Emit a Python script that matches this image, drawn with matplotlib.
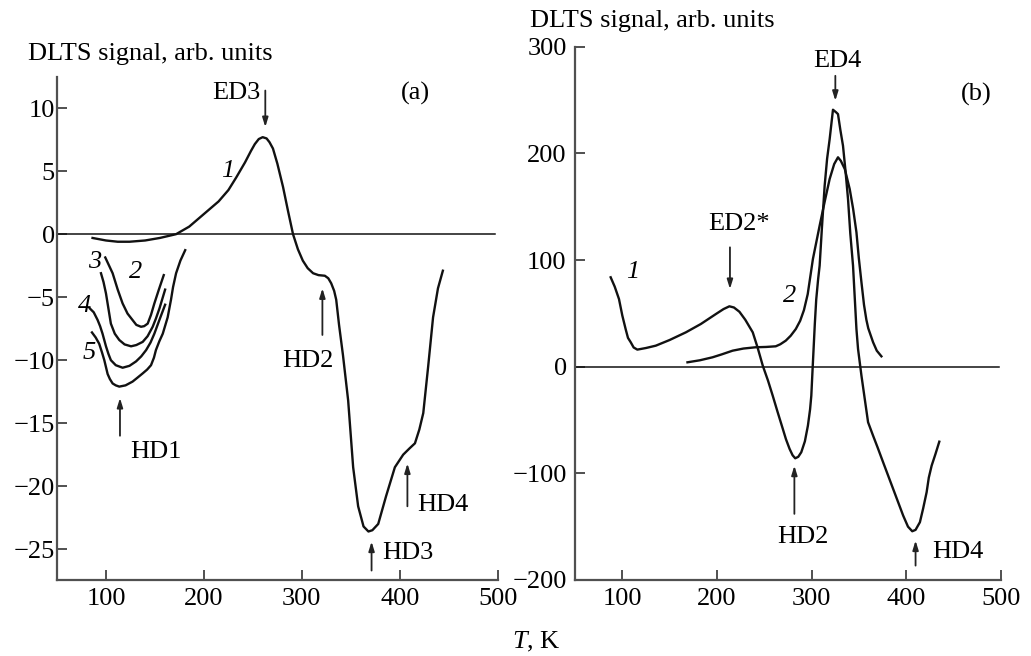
import matplotlib
matplotlib.use("Agg")
import matplotlib.pyplot as plt

plt.rcParams["font.family"] = ["Liberation Serif", "DejaVu Serif"]
plt.rcParams["mathtext.fontset"] = "custom"
plt.rcParams["mathtext.rm"] = "Liberation Serif"
plt.rcParams["mathtext.it"] = "Liberation Serif:italic"

FS = 19

# ---------------- panel (a) data ----------------
a_T1 = [86.3, 100, 112, 124, 140, 155, 171.6, 185, 197, 209, 215, 225, 233, 242, 248, 252,
        256, 260, 264, 267, 270.5, 275, 280.8, 286, 291, 296, 301, 306, 311.5, 317, 323.5,
        327, 330, 333, 335.1, 338, 342, 347.3, 352.4, 357.5, 363, 368, 372, 378, 386, 395,
        403.5, 410, 415.5, 420, 424, 429, 434, 439, 444]
a_S1 = [-0.3, -0.5, -0.6, -0.6, -0.5, -0.3, 0.0, 0.6, 1.4, 2.2, 2.6, 3.5, 4.5, 5.7, 6.6, 7.15,
        7.55, 7.7, 7.6, 7.3, 6.8, 5.6, 3.75, 1.8, 0.0, -1.2, -2.1, -2.7, -3.1, -3.25, -3.3,
        -3.5, -3.9, -4.5, -5.2, -7.2, -9.6, -13.2, -18.5, -21.6, -23.2, -23.6, -23.5, -23.0,
        -20.8, -18.5, -17.5, -17.0, -16.6, -15.5, -14.2, -10.5, -6.6, -4.3, -2.9]

a_T2 = [99.3, 102, 106.8, 112, 117, 122, 127, 131, 135.8, 139, 142.6, 146, 149.4, 154, 159]
a_S2 = [-1.85, -2.3, -3.1, -4.4, -5.5, -6.3, -6.8, -7.2, -7.35, -7.3, -7.1, -6.4, -5.5, -4.4, -3.25]

a_T3 = [94.9, 97.5, 100, 102.5, 105, 109, 113.6, 119, 125.6, 131, 137.5, 142.5, 147.7, 151,
        154.6, 160.4]
a_S3 = [-3.1, -3.8, -4.7, -5.9, -7.1, -7.9, -8.4, -8.75, -8.9, -8.8, -8.55, -8.1, -7.35, -6.7,
        -5.9, -4.4]

a_T4 = [83.6, 87.5, 91.4, 94, 96.5, 100, 102.5, 105, 110, 117, 124, 130.7, 136, 141, 145.5,
        149.4, 154.6, 160.4]
a_S4 = [-5.9, -6.2, -6.8, -7.3, -7.9, -8.9, -9.5, -10.0, -10.4, -10.6, -10.45, -10.1, -9.7,
        -9.2, -8.6, -7.9, -6.8, -5.6]

a_T5 = [85.7, 89.5, 93.1, 96, 98.3, 101.7, 104, 106.8, 110, 113.6, 120, 127.2, 132, 137.5, 142,
        146, 149, 151, 154.5, 158, 163, 166.4, 168.5, 171.6, 176, 180.9]
a_S5 = [-7.8, -8.2, -8.7, -9.4, -10.0, -11.1, -11.5, -11.85, -12.0, -12.1, -12.0, -11.7, -11.4,
        -11.05, -10.75, -10.4, -9.8, -9.2, -8.5, -7.9, -6.6, -5.2, -4.2, -3.1, -2.1, -1.27]

a_xticks = [100, 200, 300, 400, 500]
a_yticks = [10, 5, 0, -5, -10, -15, -20, -25]

# ---------------- panel (b) data ----------------
b_T1 = [87.7, 92, 96.5, 100, 103.6, 106, 108.9, 112, 115.9, 125, 135.4, 150, 167.2, 183, 199,
        207, 213.2, 218, 223.8, 230, 237.9, 243, 248.5, 254, 259, 264, 269.7, 273, 276.8, 280,
        282.8, 286, 289.2, 293, 296.2, 298.5, 299.8, 301, 302.2, 303.5, 305, 307, 308.6, 311,
        313.9, 316.5, 319.2, 322.7, 326, 328, 330.5, 333.3, 336, 338.6, 341, 343.9, 346, 347.5,
        349.2, 352.8, 356.3, 359.8, 365.1, 370, 375.7, 386.3, 396.9, 402, 406.5, 410, 414.6,
        418, 421.7, 424, 427, 431, 435.1]
b_S1 = [83.8, 75, 63.4, 48, 35, 27, 22.9, 18, 16, 17.5, 19.7, 25, 32.2, 40, 49.4,
        54, 56.6, 55.5, 51.5, 44, 32.2, 18, 0.9, -13, -27.2, -42, -58.4, -68, -77, -83,
        -85.9, -84.5, -80.2, -70, -55.3, -40, -27.2, -5, 16.6, 40, 63, 82, 94.7, 130,
        169.6, 195, 213.4, 240.9, 238.5, 236.8, 222, 207.1, 183, 157.2, 125, 94.7, 60, 35.3,
        16.6, -8.4, -30.3, -52.1, -64.7, -76, -89.6, -114.6, -139.6, -150, -154.3, -153, -145.8,
        -133, -117.7, -104, -92.8, -82, -70.3]

b_T2 = [168.9, 182, 195.4, 205, 216.6, 228, 241, 252, 262.2, 267, 272.8, 278, 283.4, 288, 292,
        296, 301.5, 308.6, 314, 319.2, 324, 328, 331, 335.2, 340.4, 344, 347.5, 350, 352.8,
        355.5, 358, 360, 365.1, 369, 373.9]
b_S2 = [4.1, 6, 8.8, 11.5, 15, 17, 18.2, 18.5, 19.1, 21, 24.4, 29, 35.3, 43, 53,
        68, 101, 132.2, 155, 176, 190, 196.3, 193, 185.3, 166.5, 148, 126, 102, 79.1,
        58, 44, 36, 22.9, 15, 9.7]

b_xticks = [100, 200, 300, 400, 500]
b_yticks = [300, 200, 100, 0, -100, -200]

SPINE = "#505050"
LINE = "#111111"

fig = plt.figure(figsize=(10.31, 6.56), dpi=100)
axa = fig.add_axes([57 / 1031, 76 / 656, (497.7 - 57) / 1031, (580 - 76.7) / 656])
axb = fig.add_axes([575 / 1031, 76 / 656, (1000.7 - 575) / 1031, (580 - 46.7) / 656])


def style(ax, xt, yt, ypad):
    for s in ("top", "right"):
        ax.spines[s].set_visible(False)
    for s in ("left", "bottom"):
        ax.spines[s].set_color(SPINE)
        ax.spines[s].set_linewidth(1.6)
    ax.set_xticks(xt)
    ax.set_yticks(yt)
    ax.tick_params(axis="both", direction="in", length=7, width=1.4, color=SPINE,
                   labelsize=FS, labelcolor="black")
    ax.tick_params(axis="x", pad=6)
    ax.tick_params(axis="y", pad=ypad)
    ax.set_xlim(50, 500)
    ax.axhline(0, xmin=0, xmax=0.995, color=LINE, lw=1.1)


style(axa, a_xticks, a_yticks, 1.5)
axa.set_ylim(-27.45, 12.5)
style(axb, b_xticks, b_yticks, 6)
axb.set_ylim(-200, 300)

lw = 1.7
for T, S in [(a_T1, a_S1), (a_T2, a_S2), (a_T3, a_S3), (a_T4, a_S4), (a_T5, a_S5)]:
    axa.plot(T, S, color=LINE, lw=lw, solid_joinstyle="round")
for T, S in [(b_T1, b_S1), (b_T2, b_S2)]:
    axb.plot(T, S, color=LINE, lw=lw, solid_joinstyle="round")

arrow_kw = dict(arrowstyle="-|>,head_length=0.55,head_width=0.17", color="#222222", lw=1.3,
                shrinkA=0, shrinkB=0)


def arrow(ax, x, y_tail, y_tip):
    ax.annotate("", xy=(x, y_tip), xytext=(x, y_tail), arrowprops=arrow_kw)


# panel (a) annotations
arrow(axa, 262.7, 11.4, 8.5)
axa.text(258, 11.2, "ED3", fontsize=FS, ha="right", va="center")
arrow(axa, 321, -8.0, -4.3)
axa.text(306, -10.1, "HD2", fontsize=FS, ha="center", va="center")
arrow(axa, 114.3, -16.0, -13.0)
axa.text(151, -17.3, "HD1", fontsize=FS, ha="center", va="center")
arrow(axa, 371.2, -26.7, -24.4)
axa.text(382, -25.3, "HD3", fontsize=FS, ha="left", va="center")
arrow(axa, 407.8, -21.6, -18.2)
axa.text(418, -21.5, "HD4", fontsize=FS, ha="left", va="center")
axa.text(416, 11.2, "(a)", fontsize=FS, ha="center", va="center")
axa.text(224, 5.0, "1", fontsize=FS, style="italic", ha="center", va="center")
axa.text(88, -2.2, "3", fontsize=FS, style="italic", ha="center", va="center")
axa.text(130, -3.0, "2", fontsize=FS, style="italic", ha="center", va="center")
axa.text(78, -5.7, "4", fontsize=FS, style="italic", ha="center", va="center")
axa.text(83, -9.4, "5", fontsize=FS, style="italic", ha="center", va="center")

# panel (b) annotations
arrow(axb, 325.2, 272.7, 249.3)
axb.text(327, 287, "ED4", fontsize=FS, ha="center", va="center")
arrow(axb, 213.8, 111.9, 72.8)
axb.text(223.7, 133.7, "ED2*", fontsize=FS, ha="center", va="center")
arrow(axb, 281.9, -138, -92.8)
axb.text(291, -160, "HD2", fontsize=FS, ha="center", va="center")
arrow(axb, 410, -186.5, -163)
axb.text(428, -174, "HD4", fontsize=FS, ha="left", va="center")
axb.text(474, 255.6, "(b)", fontsize=FS, ha="center", va="center")
axb.text(110.6, 88.5, "1", fontsize=FS, style="italic", ha="center", va="center")
axb.text(276.7, 66.5, "2", fontsize=FS, style="italic", ha="center", va="center")

# axis titles
fig.text(28 / 1031, (656 - 60) / 656, "DLTS signal, arb. units", fontsize=FS,
         ha="left", va="baseline")
fig.text(530 / 1031, (656 - 26.7) / 656, "DLTS signal, arb. units", fontsize=FS,
         ha="left", va="baseline")
fig.text(511.7 / 1031, (656 - 648) / 656, r"$T$, K", fontsize=FS, ha="left", va="baseline")

fig.savefig("out.png", dpi=100)
